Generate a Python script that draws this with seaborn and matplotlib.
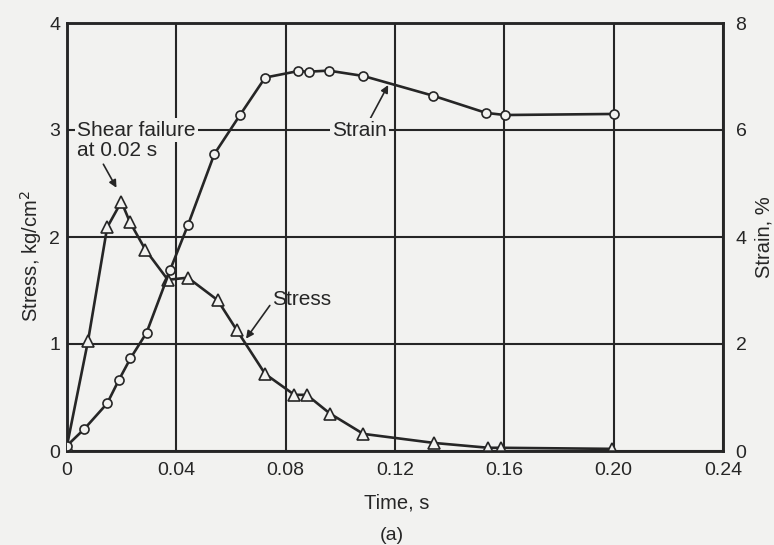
import matplotlib
matplotlib.use("Agg")
import matplotlib.pyplot as plt
import pandas as pd
import seaborn as sns

# ---- data ----
stress_time = [0.0, 0.0077, 0.0147, 0.0199, 0.0230, 0.0287, 0.0369, 0.0442, 0.0551,
               0.0621, 0.0725, 0.0832, 0.0877, 0.0962, 0.1084, 0.1344, 0.1542, 0.1588, 0.1993]
stress_values = [0.05, 1.03, 2.09, 2.33, 2.14, 1.88, 1.60, 1.62, 1.41,
                 1.13, 0.72, 0.525, 0.525, 0.35, 0.16, 0.075, 0.03, 0.03, 0.02]

strain_time = [0.0, 0.0063, 0.0147, 0.0189, 0.0232, 0.0291, 0.0377, 0.0443, 0.0539,
               0.0633, 0.0725, 0.0844, 0.0884, 0.0957, 0.1084, 0.1340, 0.1533, 0.1602, 0.2002]
strain_values = [0.1, 0.41, 0.89, 1.32, 1.73, 2.21, 3.38, 4.23, 5.55,
                 6.28, 6.98, 7.10, 7.09, 7.11, 7.01, 6.64, 6.32, 6.28, 6.30]

time_ticks = [0, 0.04, 0.08, 0.12, 0.16, 0.20, 0.24]
time_tick_labels = ["0", "0.04", "0.08", "0.12", "0.16", "0.20", "0.24"]
stress_ticks = [0, 1, 2, 3, 4]
strain_ticks = [0, 2, 4, 6, 8]

stress_df = pd.DataFrame({"time": stress_time, "stress": stress_values})
strain_df = pd.DataFrame({"time": strain_time, "strain": strain_values})

# ---- style ----
sns.set_theme(style="white")
plt.rcParams["font.family"] = ["Liberation Sans", "DejaVu Sans"]

BG = "#f2f2f0"
INK = "#262626"

fig = plt.figure(figsize=(7.74, 5.45), dpi=100, facecolor=BG)
ax = fig.add_axes([67 / 774, 1 - 451 / 545, 656 / 774, 428 / 545])
ax.set_facecolor(BG)

ax.set_xlim(0, 0.24)
ax.set_ylim(0, 4)
ax.set_xticks(time_ticks)
ax.set_xticklabels(time_tick_labels)
ax.set_yticks(stress_ticks)
ax.grid(True, color=INK, lw=1.5)
ax.set_axisbelow(True)
for s in ax.spines.values():
    s.set_color(INK)
    s.set_linewidth(1.8)
ax.tick_params(axis="both", length=0, labelsize=14, colors=INK)
ax.tick_params(axis="x", pad=8)
ax.tick_params(axis="y", pad=5)

# stress curve (left axis)
sns.lineplot(data=stress_df, x="time", y="stress", ax=ax, color=INK, lw=1.9,
             marker="^", markersize=8, markerfacecolor=BG, markeredgecolor=INK,
             markeredgewidth=1.2, zorder=3)

# strain curve (right axis)
ax2 = ax.twinx()
ax2.set_ylim(0, 8)
ax2.set_yticks(strain_ticks)
ax2.grid(False)
for s in ax2.spines.values():
    s.set_color(INK)
    s.set_linewidth(1.8)
ax2.tick_params(axis="y", length=0, labelsize=14, colors=INK, pad=9)
sns.lineplot(data=strain_df, x="time", y="strain", ax=ax2, color=INK, lw=1.9,
             marker="o", markersize=6.5, markerfacecolor=BG, markeredgecolor=INK,
             markeredgewidth=1.2, zorder=3)

# labels
ax.set_xlabel("Time, s", fontsize=14.5, color=INK)
ax.xaxis.set_label_coords(0.503, -0.10)
ax.set_ylabel("Stress, kg/cm$^2$", fontsize=14.5, color=INK)
ax.yaxis.set_label_coords(-0.035, 0.455)
ax2.set_ylabel("Strain, %", fontsize=14.5, color=INK)
ax2.yaxis.set_label_coords(1.048, 0.5)
fig.text(392 / 774, 1 - 535 / 545, "(a)", ha="center", va="center", fontsize=14, color=INK)

# annotations
arrow = dict(arrowstyle="-|>", color=INK, lw=1.2, mutation_scale=11, shrinkA=0, shrinkB=0)
ax.text(0.0038, 3.0, "Shear failure", ha="left", va="center", fontsize=15, color=INK,
        bbox=dict(facecolor=BG, edgecolor="none", pad=1.5), zorder=4)
ax.text(0.0038, 2.81, "at 0.02 s", ha="left", va="center", fontsize=15, color=INK, zorder=4)
ax.annotate("", xy=(0.0181, 2.46), xytext=(0.0133, 2.68), arrowprops=arrow)

ax.text(0.0970, 3.0, "Strain", ha="left", va="center", fontsize=15, color=INK,
        bbox=dict(facecolor=BG, edgecolor="none", pad=1.5), zorder=4)
ax.annotate("", xy=(0.1175, 3.42), xytext=(0.1106, 3.09), arrowprops=arrow)

ax.text(0.0751, 1.42, "Stress", ha="left", va="center", fontsize=15, color=INK, zorder=4)
ax.annotate("", xy=(0.0655, 1.05), xytext=(0.0742, 1.36), arrowprops=arrow)

fig.savefig("out.png", dpi=100, facecolor=BG)
